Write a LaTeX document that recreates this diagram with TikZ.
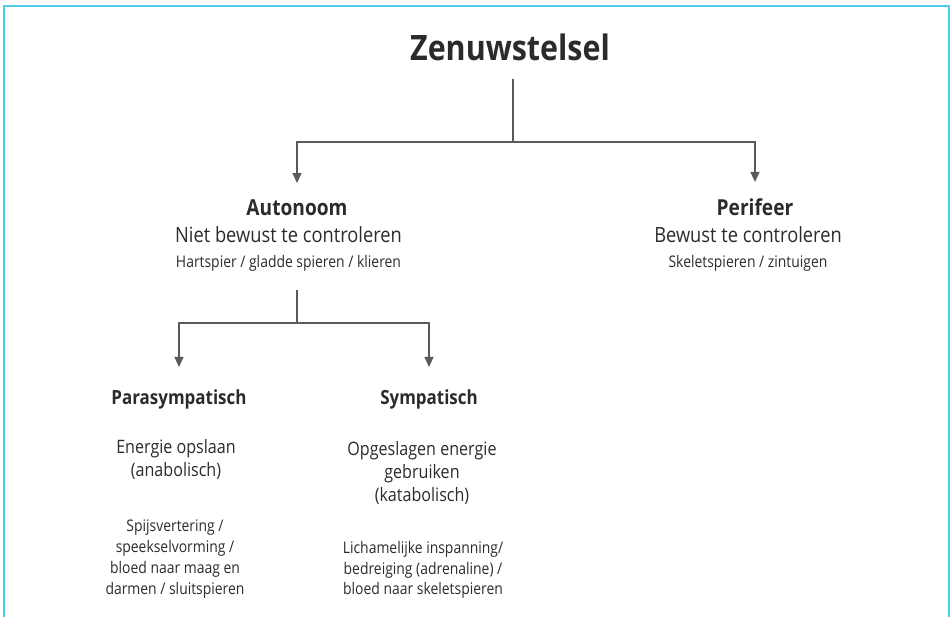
\documentclass[tikz,border=0pt]{standalone}
\usepackage{fontspec}
\setmainfont{Open Sans}[FakeStretch=0.87]
\usetikzlibrary{arrows.meta}
\definecolor{ink}{HTML}{2B2B2B}
\definecolor{wire}{HTML}{5A5A5A}
\definecolor{sky}{HTML}{4DCDEC}
\tikzset{txt/.style={inner sep=0pt,text=ink,align=center},title/.style={txt,anchor=base,font=\fontsize{35}{40}\selectfont\bfseries},head/.style={txt,anchor=base,font=\fontsize{22}{26}\selectfont\bfseries},subhead/.style={txt,anchor=base,font=\fontsize{21}{25}\selectfont},note/.style={txt,anchor=base,font=\fontsize{16}{20}\selectfont},branch/.style={txt,anchor=base,font=\fontsize{19.5}{23}\selectfont\bfseries},effect/.style={txt,anchor=north,font=\fontsize{18.5}{23}\selectfont},organ/.style={txt,anchor=north,font=\fontsize{16}{20.7}\selectfont},link/.style={draw=wire,line width=1.2pt},arr/.style={link,-{Triangle[length=10pt,width=9pt]}},frame/.style={draw=sky,line width=2pt}}
\begin{document}
\begin{tikzpicture}[x=1pt,y=-1pt]
\useasboundingbox (0,0) rectangle (950,616);
\draw[frame] (4,620) -- (4,6) -- (948.5,6) -- (948.5,620);
% top level
\node[title] (zen) at (510,60) {Zenuwstelsel};
\node[head] (auto) at (297,215) {Autonoom};
\node[subhead] (autosub) at (288.5,242) {Niet bewust te controleren};
\node[note] (autonote) at (288.5,267) {Hartspier / gladde spieren / klieren};
\node[head] (peri) at (755,215) {Perifeer};
\node[subhead] (perisub) at (748,242) {Bewust te controleren};
\node[note] (perinote) at (748,267) {Skeletspieren / zintuigen};
% autonoom splits
\node[branch] (para) at (179,404) {Parasympatisch};
\node[branch] (sym) at (429,404) {Sympatisch};
\node[effect] (paraeff) at (176,439) {Energie opslaan\\(anabolisch)};
\node[effect] (symeff) at (422,441) {Opgeslagen energie\\gebruiken\\(katabolisch)};
\node[organ] (paraorg) at (175,520) {Spijsvertering /\\speekselvorming /\\bloed naar maag en\\darmen / sluitspieren};
\node[organ] (symorg) at (423,541) {Lichamelijke inspanning/\\bedreiging (adrenaline) /\\bloed naar skeletspieren};
\coordinate (zjoin) at (513,142);
\coordinate (ajoin) at (297,323);
\draw[link,shorten <=18pt] (zen.south -| zjoin) -- (zjoin);
\draw[arr,shorten >=16pt] (zjoin) -| (auto);
\draw[arr,shorten >=16pt] (zjoin) -| (peri);
\draw[link,shorten <=19pt] (autonote.south -| ajoin) -- (ajoin);
\draw[arr,shorten >=22pt] (ajoin) -| (para);
\draw[arr,shorten >=22pt] (ajoin) -| (sym);
\end{tikzpicture}
\end{document}
